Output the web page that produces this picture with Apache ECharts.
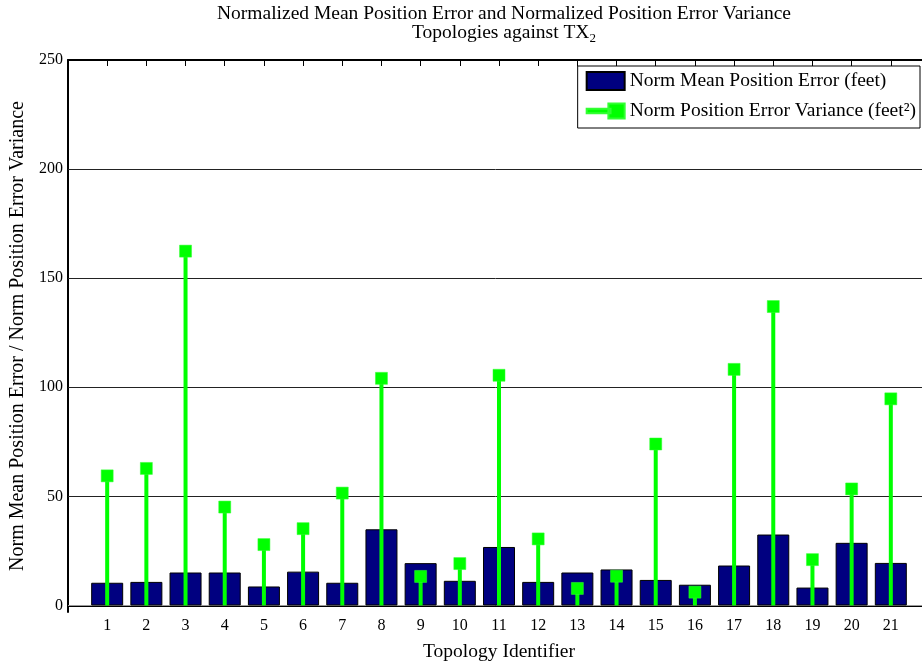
<!DOCTYPE html>
<html>
<head>
<meta charset="utf-8">
<script src="https://cdn.jsdelivr.net/npm/echarts@6/dist/echarts.min.js"></script>
<style>
  html, body { margin: 0; padding: 0; background: #fff; }
  #chart { width: 922px; height: 661px; }
</style>
</head>
<body>
<div id="chart"></div>
<script>
// Topology identifiers 1..21
const topologies = [1, 2, 3, 4, 5, 6, 7, 8, 9, 10, 11, 12, 13, 14, 15, 16, 17, 18, 19, 20, 21];
// Normalized mean position error (feet)
const meanError = [10.4, 10.8, 15.1, 15.1, 8.7, 15.5, 10.4, 34.9, 19.4, 11.3, 26.8,
                   10.8, 15.1, 16.5, 11.7, 9.5, 18.3, 32.5, 8.2, 28.7, 19.5];
// Normalized position error variance (feet^2)
const errorVariance = [59.4, 62.8, 162.4, 45.1, 27.9, 35.2, 51.5, 104.1, 13.3, 19.2, 105.5,
                       30.5, 7.8, 13.4, 74.0, 6.1, 108.2, 137.0, 21.0, 53.4, 94.7];
// Y axis tick values
const yTicks = [0, 50, 100, 150, 200, 250];

const meanName = 'Norm Mean Position Error (feet)';
const varName = 'Norm Position Error Variance (feet²)';
const FONT = 'Liberation Serif';

const barData = topologies.map((t, i) => [t, meanError[i]]);
const varData = topologies.map((t, i) => [t, errorVariance[i]]);

const chart = echarts.init(document.getElementById('chart'));
chart.setOption({
  animation: false,
  backgroundColor: '#fff',
  textStyle: { fontFamily: FONT, color: '#000' },
  title: {
    left: 499, top: 0, textAlign: 'center',
    text: 'Normalized Mean Position Error and Normalized Position Error Variance\n{m|Topologies against TX}{sub|2}',
    textStyle: {
      fontFamily: FONT, fontWeight: 'normal', fontSize: 19.5, color: '#000', lineHeight: 18,
      rich: {
        m: { fontFamily: FONT, fontSize: 19.5, lineHeight: 18, verticalAlign: 'top', color: '#000' },
        sub: { fontFamily: FONT, fontSize: 13, lineHeight: 22, verticalAlign: 'bottom', color: '#000' }
      }
    }
  },
  legend: {
    right: 2, top: 66, orient: 'vertical',
    backgroundColor: '#fff', borderColor: '#000', borderWidth: 1, borderRadius: 0,
    padding: [5, 4, 7, 8], itemGap: 10, itemWidth: 38, itemHeight: 18,
    textStyle: { fontFamily: FONT, fontSize: 19.5, color: '#000' },
    data: [
      { name: meanName, icon: 'rect' },
      { name: varName, icon: 'path://M0,7h22v4h-22z M20,2h15v14h-15z' }
    ]
  },
  grid: { left: 68, right: -8, top: 60, bottom: 49, outerBoundsMode: 'none', containLabel: false },
  xAxis: [
    {
      type: 'value', position: 'bottom', min: 0, max: 22, interval: 1,
      name: 'Topology Identifier', nameLocation: 'middle', nameGap: 30,
      nameTextStyle: { fontFamily: FONT, fontSize: 19.5, color: '#000' },
      axisLine: { show: true, lineStyle: { color: '#000', width: 2 } },
      axisTick: { show: true, inside: true, length: 6, lineStyle: { color: '#000' } },
      axisLabel: {
        fontFamily: FONT, fontSize: 16, color: '#000', margin: 6,
        formatter: v => (v >= 1 && v <= 21 ? String(v) : '')
      },
      splitLine: { show: false }
    },
    {
      type: 'value', position: 'top', min: 0, max: 22, interval: 1,
      axisLine: { show: true, lineStyle: { color: '#000', width: 2 } },
      axisTick: { show: true, inside: true, length: 6, lineStyle: { color: '#000' } },
      axisLabel: { show: false },
      splitLine: { show: false }
    },
    {
      // hidden twin axis so the stems are not grouped with the bars
      type: 'value', position: 'bottom', min: 0, max: 22, show: false
    }
  ],
  yAxis: {
    type: 'value', min: -3, max: 250,
    name: 'Norm Mean Position Error / Norm Position Error Variance',
    nameLocation: 'middle', nameGap: 38,
    nameTextStyle: { fontFamily: FONT, fontSize: 20, color: '#000' },
    axisLine: { show: true, lineStyle: { color: '#000', width: 2 } },
    axisTick: { show: true, inside: true, length: 6, customValues: yTicks, lineStyle: { color: '#000' } },
    axisLabel: { fontFamily: FONT, fontSize: 16, color: '#000', margin: 5, customValues: yTicks },
    splitLine: { show: false }
  },
  series: [
    {
      name: meanName, type: 'bar', xAxisIndex: 0, yAxisIndex: 0,
      data: barData, barWidth: 32, z: 2,
      itemStyle: { color: '#000080', borderColor: '#000', borderWidth: 1 },
      markLine: {
        silent: true, symbol: 'none', z: 1,
        label: { show: false },
        emphasis: { disabled: true },
        data: yTicks.slice(0, -1).map(v => ({
          yAxis: v,
          lineStyle: { color: v === 0 ? '#999' : '#222', width: 1, type: 'solid' }
        }))
      }
    },
    {
      name: 'stem', type: 'bar', xAxisIndex: 2, yAxisIndex: 0,
      data: varData, barWidth: 4, z: 10,
      itemStyle: { color: '#00ff00' }
    },
    {
      name: varName, type: 'scatter', xAxisIndex: 0, yAxisIndex: 0,
      data: varData, symbol: 'rect', symbolSize: 12, z: 11,
      itemStyle: { color: '#00ff00', borderColor: '#33ff33', borderWidth: 0.5, opacity: 1 }
    }
  ]
});
</script>
</body>
</html>
